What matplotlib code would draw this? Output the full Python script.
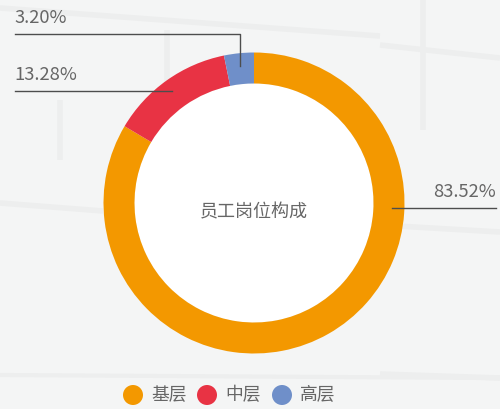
import matplotlib
matplotlib.use("Agg")
import matplotlib.pyplot as plt
from matplotlib.patches import Circle

plt.rcParams['font.family'] = ['Noto Sans CJK SC', 'DejaVu Sans']

categories = ['基层', '中层', '高层']
values = [83.52, 13.28, 3.20]
value_labels = ['83.52%', '13.28%', '3.20%']
colors = ['#F39800', '#E83344', '#6F8FC9']
title = '员工岗位构成'

W, H = 500, 409
fig = plt.figure(figsize=(W / 100, H / 100), dpi=100)
fig.patch.set_facecolor('#F4F5F5')
ax = fig.add_axes([0, 0, 1, 1])
ax.set_xlim(0, W)
ax.set_ylim(0, H)
ax.set_aspect('equal')
ax.axis('off')

def Y(y):
    return H - y

# faint background window frames
bg = '#EDEEEE'
for (x0, y0, x1, y1, lw) in [
    (60, 100, 60, 160, 4), (0, 203, 103, 211, 4), (423, 0, 423, 130, 4),
    (380, 45, 500, 58, 4), (380, 225, 500, 232, 4), (380, 374, 500, 378, 4),
    (0, 375, 500, 378, 3), (0, 8, 380, 36, 4), (167, 30, 167, 120, 4),
]:
    ax.plot([x0, x1], [Y(y0), Y(y1)], color=bg, lw=lw, solid_capstyle='butt', zorder=0)

cx, cy, R, r = 254, 203, 150.5, 119.5
ax.add_patch(Circle((cx, Y(cy)), r, facecolor='white', edgecolor='none', zorder=1))
ax.pie(values, colors=colors, startangle=90, counterclock=False,
       center=(cx, Y(cy)), radius=R, frame=True,
       wedgeprops=dict(width=R - r, edgecolor='none', linewidth=0))
ax.set_xlim(0, W)
ax.set_ylim(0, H)
ax.axis('off')

ax.text(cx, Y(212), title, ha='center', va='center', fontsize=13, color='#666666', zorder=5)

line_c = '#4D4D4D'
# 83.52%
ax.plot([392, 496], [Y(208), Y(208)], color=line_c, lw=1, zorder=5)
ax.text(496, Y(192), value_labels[0], ha='right', va='center', fontsize=13.2, color='#666666')
# 13.28%
ax.plot([15, 172], [Y(91), Y(91)], color=line_c, lw=1, zorder=5)
ax.text(14, Y(74.5), value_labels[1], ha='left', va='center', fontsize=13.2, color='#666666')
# 3.20%
ax.plot([15, 240, 240], [Y(34), Y(34), Y(66)], color=line_c, lw=1, zorder=5)
ax.text(14, Y(18), value_labels[2], ha='left', va='center', fontsize=13.2, color='#666666')

# legend
lx = [133, 207, 282]
for x, c, lab in zip(lx, colors, categories):
    ax.add_patch(Circle((x, Y(395)), 10, facecolor=c, edgecolor='none', zorder=5))
    ax.text(x + 18, Y(395), lab, ha='left', va='center', fontsize=12.8, color='#666666')

fig.savefig('out.png', dpi=100, facecolor=fig.get_facecolor())
